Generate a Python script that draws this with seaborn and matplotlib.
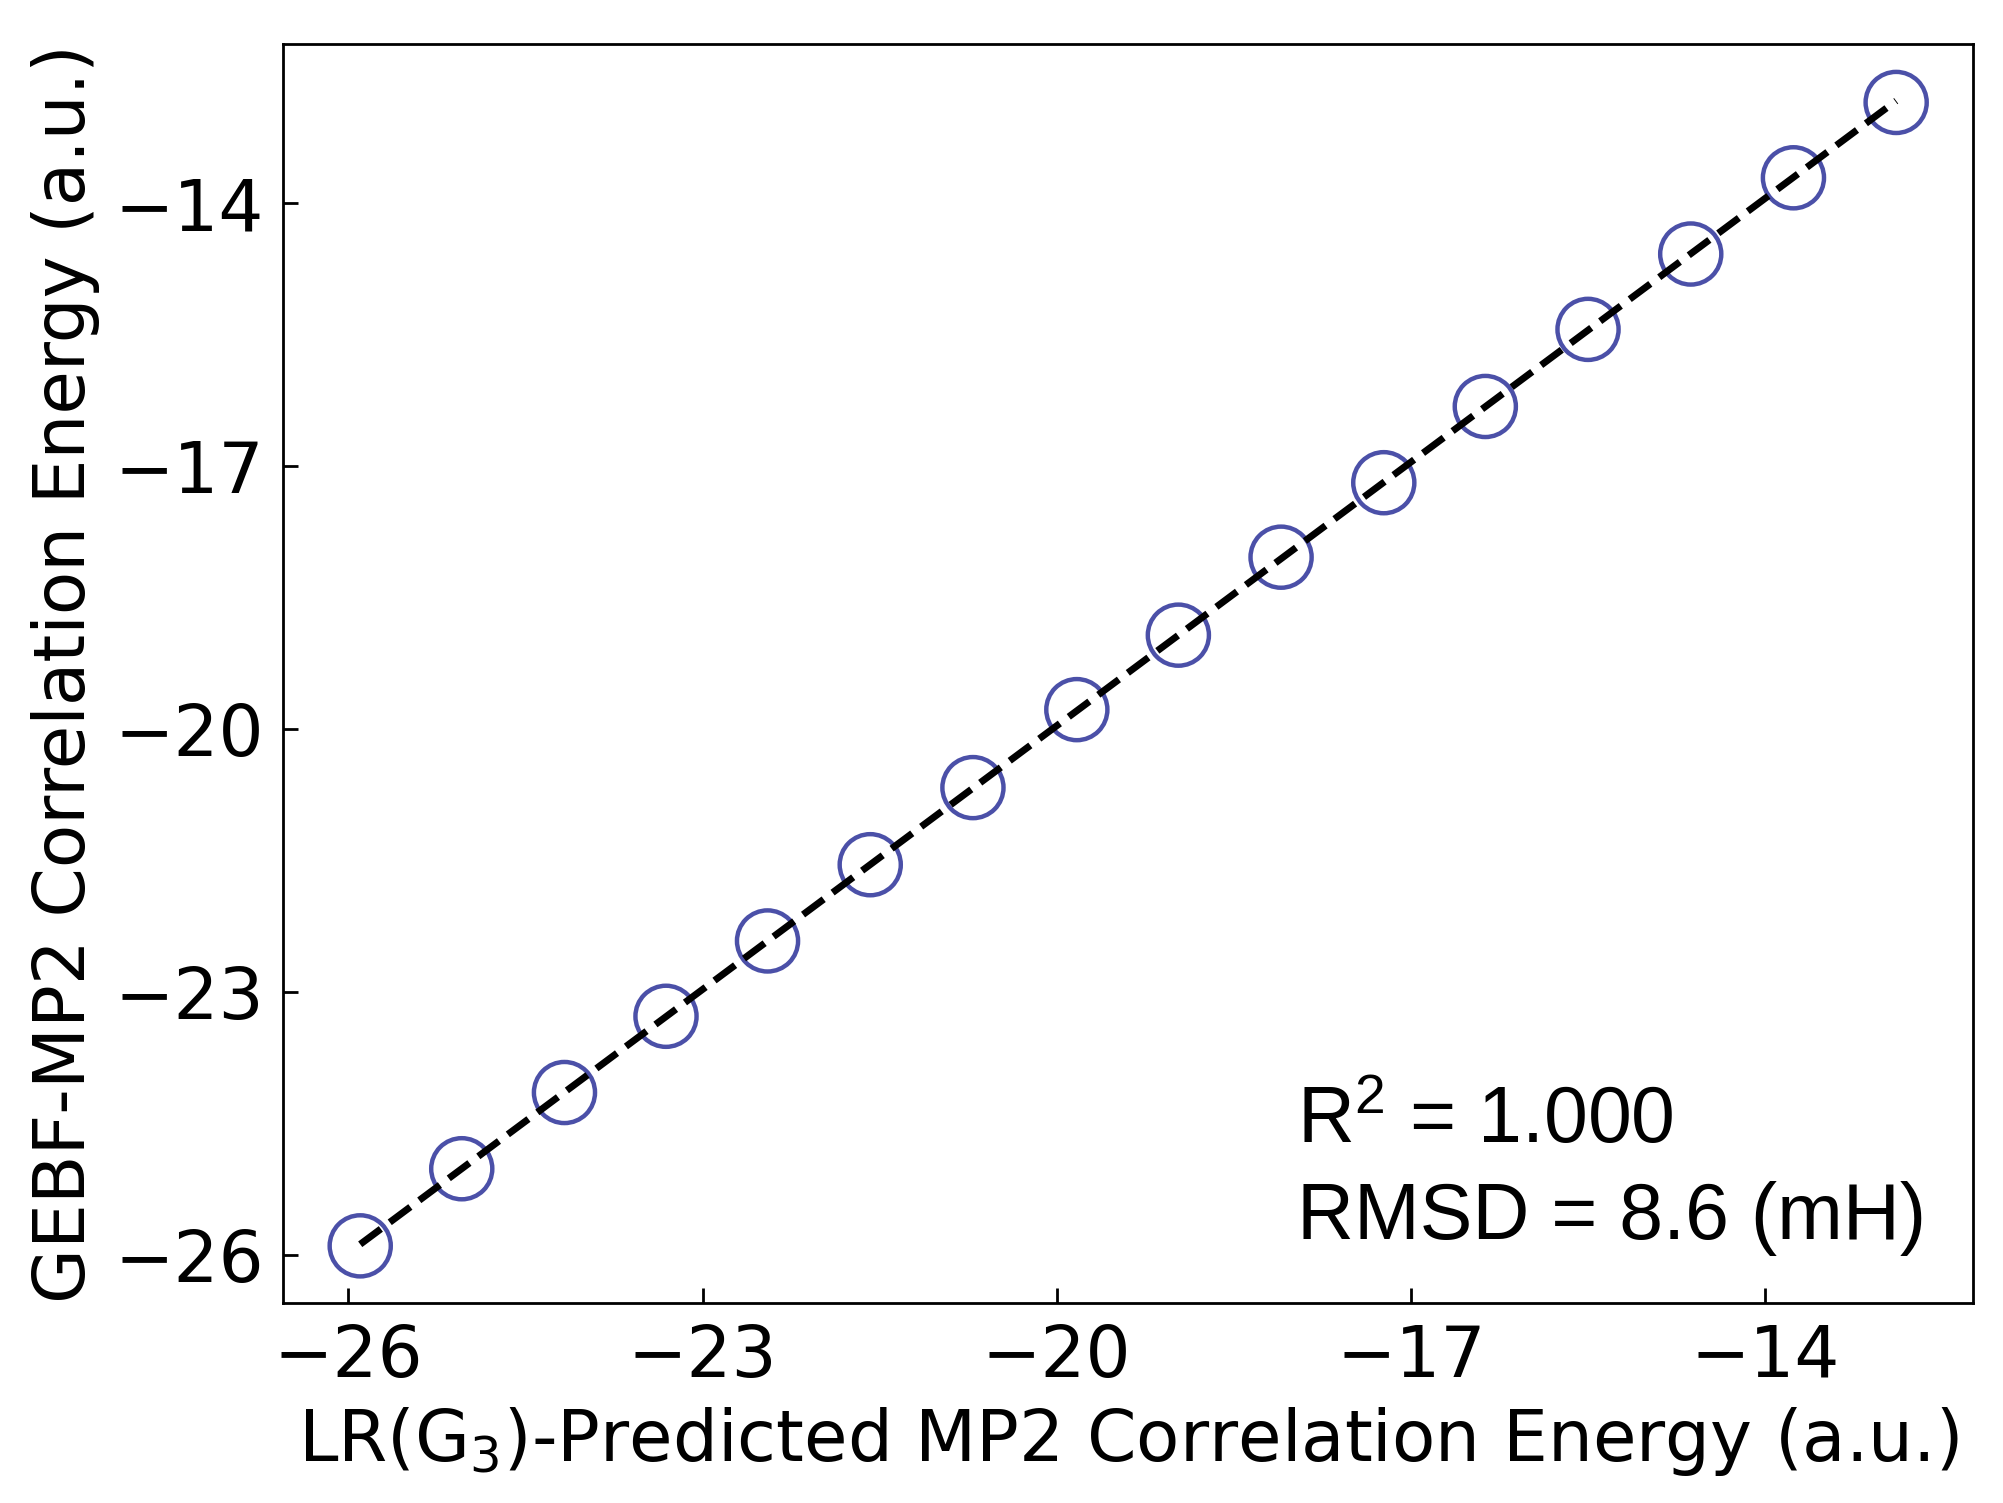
#!/usr/bin/env python3

import numpy as np
import pandas
import seaborn as sns
import matplotlib.pyplot as plt

# LR(G3)-predicted vs GEBF-MP2 correlation energies (a.u.)
lr_pred = [-25.90, -25.04, -24.17, -23.31, -22.45, -21.58, -20.71, -19.83,
           -18.97, -18.10, -17.23, -16.37, -15.50, -14.63, -13.76, -12.89]
gebf_mp2 = [-25.90, -25.02, -24.15, -23.28, -22.42, -21.55, -20.67, -19.78,
            -18.93, -18.04, -17.19, -16.32, -15.44, -14.58, -13.71, -12.85]
ticks = [-26, -23, -20, -17, -14]
r2_text = "R$\\mathregular{^2}$ = 1.000"
rmsd_text = "RMSD = 8.6 (mH)"

sns.set_style("ticks")
plt.rcParams["font.family"] = ["DejaVu Sans"]
plt.rcParams["text.color"] = "black"
plt.rcParams["axes.labelcolor"] = "black"
plt.rcParams["xtick.color"] = "black"
plt.rcParams["ytick.color"] = "black"
plt.rcParams["axes.linewidth"] = 1.0


def main():
    df = pandas.DataFrame({"x": lr_pred, "y": gebf_mp2})

    fig = plt.figure(figsize=(10.015, 7.515), dpi=200)
    ax = fig.add_axes([0.1415, 0.133, 0.8435, 0.838])

    sns.scatterplot(
        data=df, x="x", y="y", ax=ax, marker="o", s=22 ** 2,
        facecolor="none", edgecolor="#4b50a8", linewidth=1.6, zorder=2,
    )
    # linear fit, dashed, drawn over the circles
    sns.regplot(
        data=df, x="x", y="y", ax=ax, scatter=False, ci=None, truncate=True,
        line_kws={"color": "black", "linestyle": "--", "linewidth": 2.5, "zorder": 3},
    )

    ax.set_xticks(ticks)
    ax.set_yticks(ticks)
    ax.tick_params(direction="in", length=5.5, width=1.0, labelsize=25.5, pad=7,
                   color="black", labelcolor="black")
    for sp in ax.spines.values():
        sp.set_visible(True)
        sp.set_color("black")
        sp.set_linewidth(1.0)

    ax.set_xlabel("LR(G$_3$)-Predicted MP2 Correlation Energy (a.u.)", fontsize=25.5,
                  labelpad=5, color="black")
    ax.set_ylabel("GEBF-MP2 Correlation Energy (a.u.)", fontsize=25.5, labelpad=5,
                  color="black")

    ax.text(0.600, 0.127, r2_text, transform=ax.transAxes, fontsize=28.4,
            family=["Liberation Sans"], va="baseline", ha="left", color="black")
    ax.text(0.600, 0.051, rmsd_text, transform=ax.transAxes, fontsize=28.4,
            family=["Liberation Sans"], va="baseline", ha="left", color="black")

    fig.savefig("out.png", dpi=200)
    plt.close(fig)


if __name__ == "__main__":
    main()
